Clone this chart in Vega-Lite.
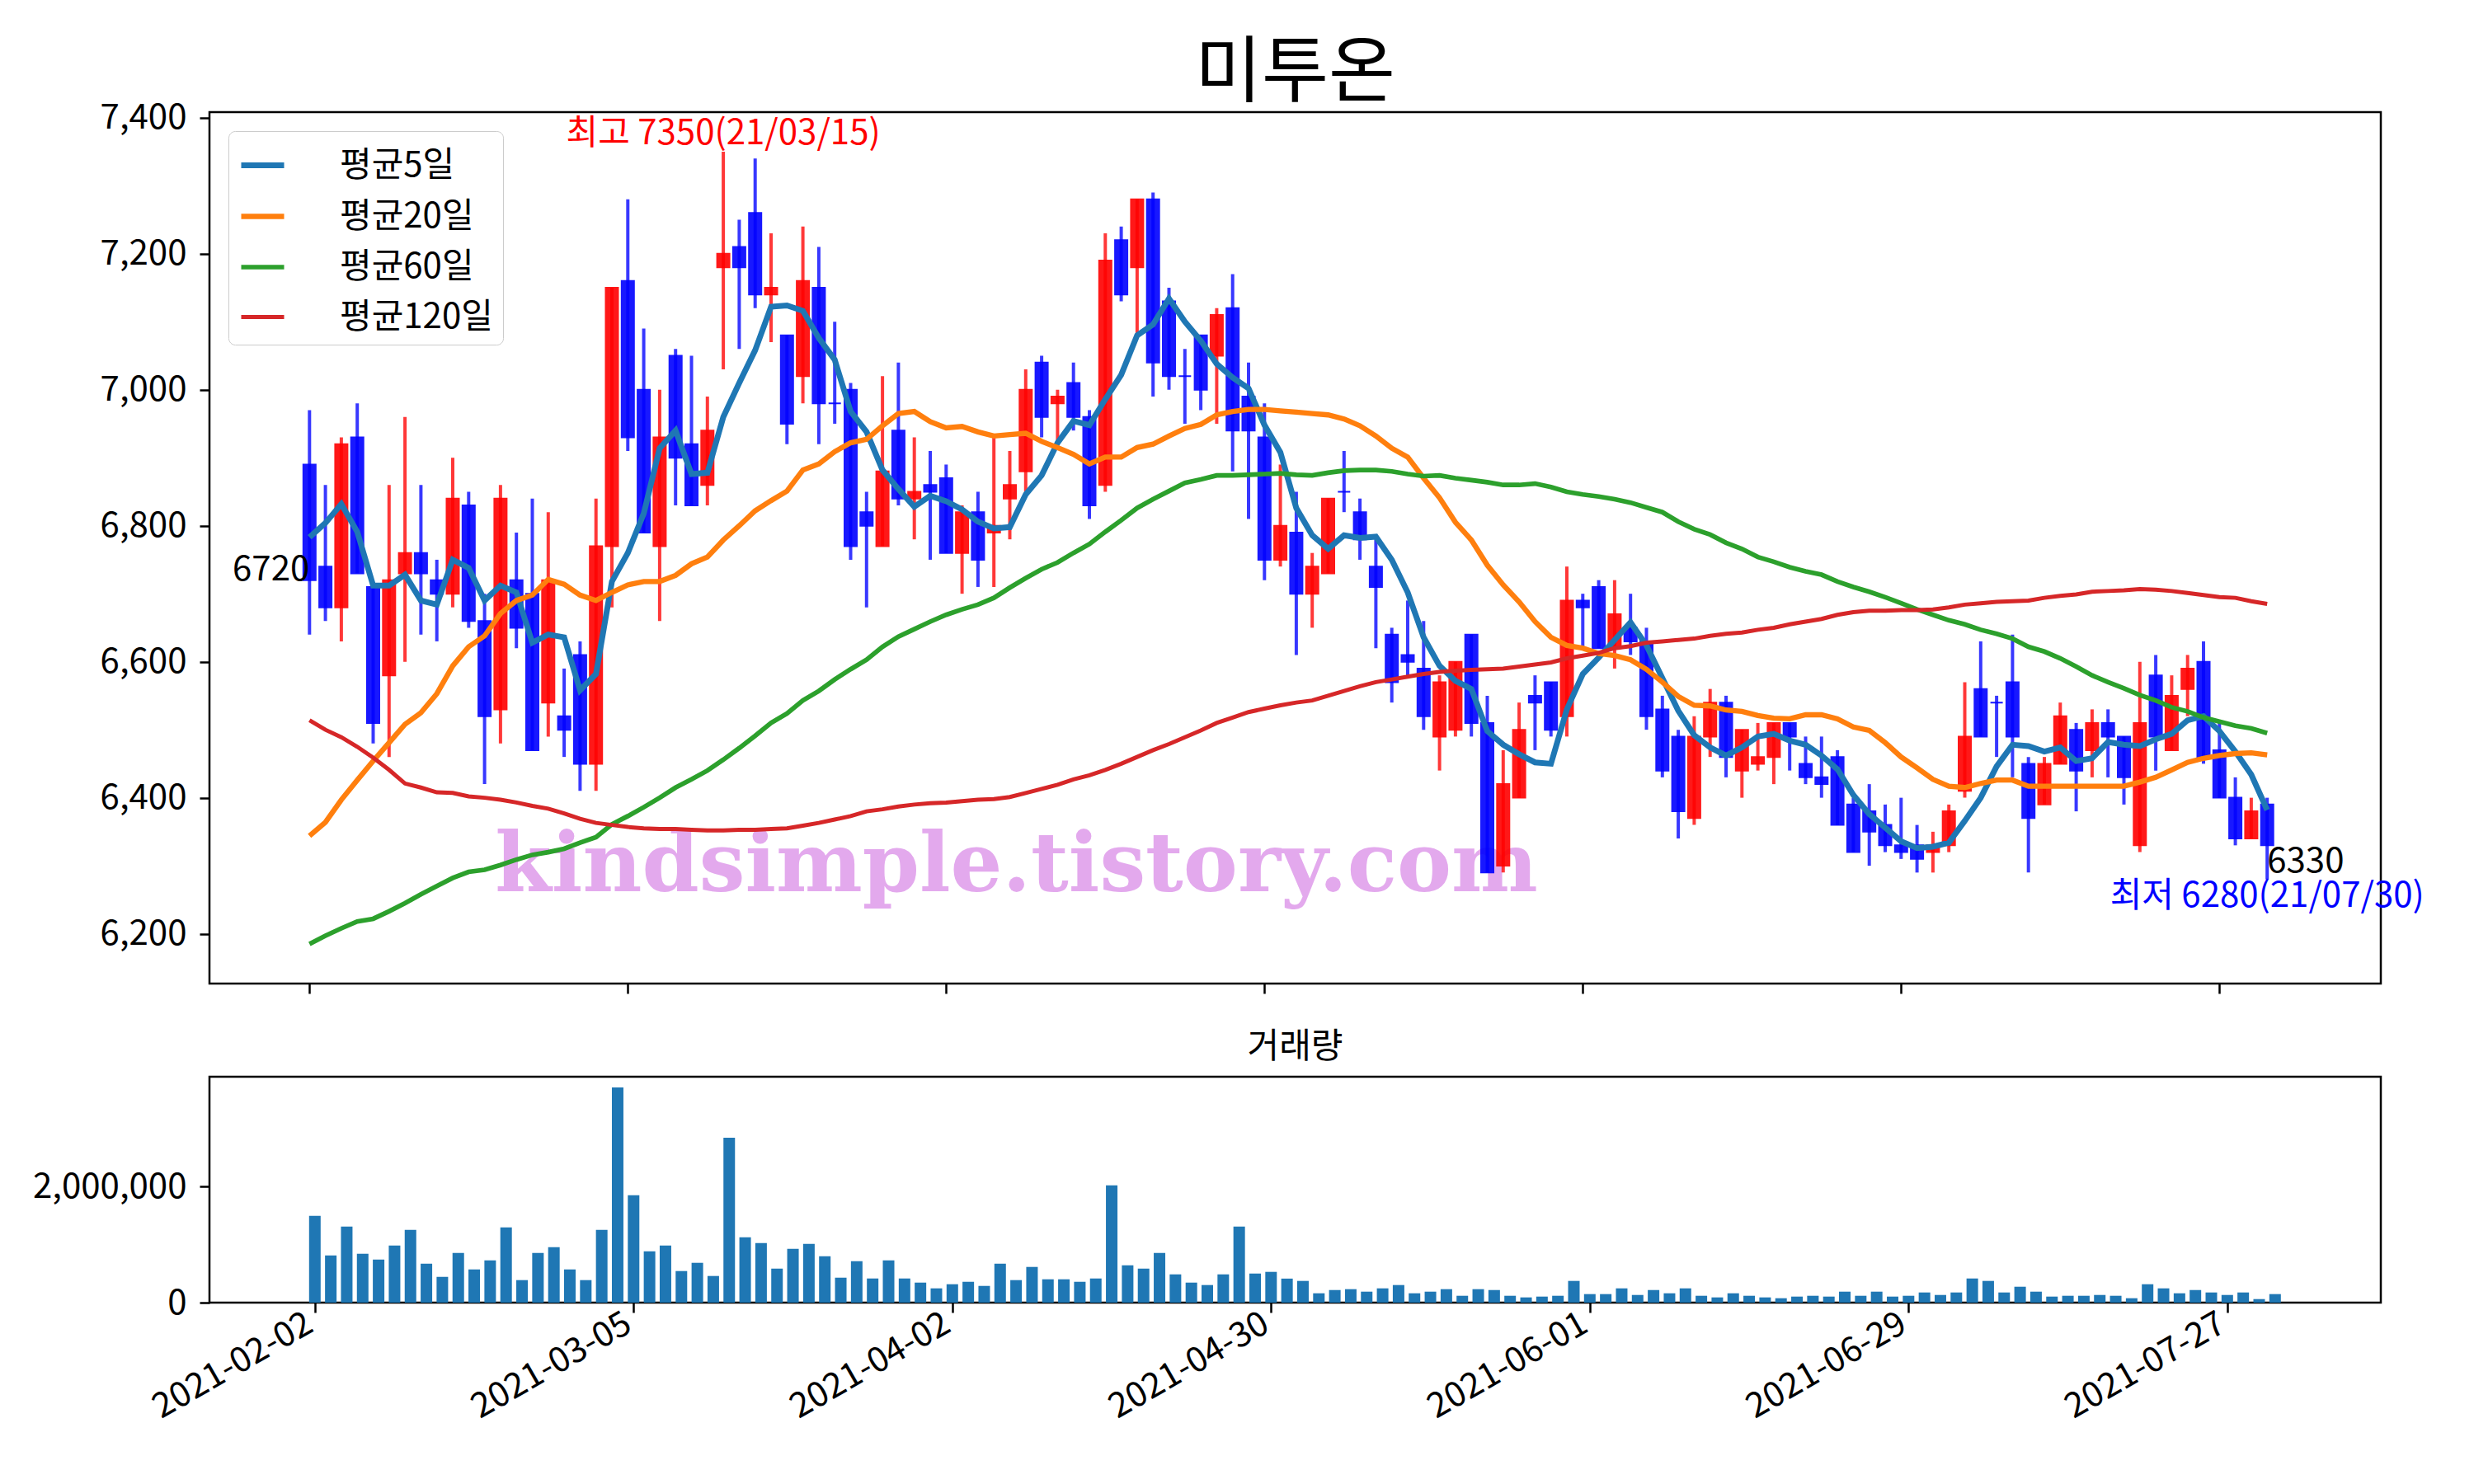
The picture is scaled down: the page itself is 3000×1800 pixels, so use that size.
{
"$schema":"https://vega.github.io/schema/vega-lite/v6.json",
"autosize":{"type":"pad"},
"padding":{"left":38,"top":45,"right":0,"bottom":40},
"background":"white",
"title":{"text":"미투온","fontSize":88,"font":"Noto Sans CJK KR","fontWeight":"normal","anchor":"middle","frame":"group","offset":-13,"color":"black"},
"config":{"font":"Noto Sans CJK KR","view":{"stroke":"black","strokeWidth":2.5},
"axis":{"grid":false,"domain":false,"tickColor":"black","tickWidth":2.5,"tickSize":12,"labelColor":"black","labelFontSize":42,"labelFont":"Noto Sans CJK KR","labelPadding":16,"labelLimit":500},
"axisY":{"minExtent":200,"maxExtent":200},
"concat":{"spacing":39}},
"resolve":{"scale":{"x":"independent","y":"independent"}},
"datasets":{"stock":[
{"date":"2021-02-02","open":6890,"high":6970,"low":6640,"close":6720,"volume":1494000,"평균5일":6783,"평균20일":6344,"평균60일":6185,"평균120일":6514},
{"date":"2021-02-03","open":6740,"high":6860,"low":6660,"close":6680,"volume":813000,"평균5일":6804,"평균20일":6364,"평균60일":6197,"평균120일":6500},
{"date":"2021-02-04","open":6680,"high":6930,"low":6630,"close":6920,"volume":1310000,"평균5일":6832,"평균20일":6397,"평균60일":6208,"평균120일":6489},
{"date":"2021-02-05","open":6930,"high":6980,"low":6730,"close":6730,"volume":842000,"평균5일":6791,"평균20일":6426,"평균60일":6218,"평균120일":6475},
{"date":"2021-02-08","open":6710,"high":6710,"low":6480,"close":6510,"volume":742000,"평균5일":6712,"평균20일":6454,"평균60일":6222,"평균120일":6459},
{"date":"2021-02-09","open":6580,"high":6860,"low":6460,"close":6720,"volume":983000,"평균5일":6712,"평균20일":6481,"평균60일":6233,"평균120일":6441},
{"date":"2021-02-10","open":6730,"high":6960,"low":6600,"close":6760,"volume":1253000,"평균5일":6728,"평균20일":6508,"평균60일":6245,"평균120일":6421},
{"date":"2021-02-15","open":6760,"high":6860,"low":6640,"close":6730,"volume":671000,"평균5일":6690,"평균20일":6525,"평균60일":6258,"평균120일":6415},
{"date":"2021-02-16","open":6720,"high":6750,"low":6630,"close":6700,"volume":444000,"평균5일":6684,"평균20일":6553,"평균60일":6270,"평균120일":6408},
{"date":"2021-02-17","open":6700,"high":6900,"low":6680,"close":6840,"volume":856000,"평균5일":6750,"평균20일":6594,"평균60일":6282,"평균120일":6407},
{"date":"2021-02-18","open":6830,"high":6850,"low":6650,"close":6660,"volume":572000,"평균5일":6738,"평균20일":6622,"평균60일":6291,"평균120일":6402},
{"date":"2021-02-19","open":6660,"high":6700,"low":6420,"close":6520,"volume":728000,"평균5일":6690,"평균20일":6638,"평균60일":6294,"평균120일":6400},
{"date":"2021-02-22","open":6530,"high":6860,"low":6480,"close":6840,"volume":1296000,"평균5일":6712,"평균20일":6671,"평균60일":6301,"평균120일":6397},
{"date":"2021-02-23","open":6720,"high":6790,"low":6620,"close":6650,"volume":388000,"평균5일":6702,"평균20일":6690,"평균60일":6309,"평균120일":6393},
{"date":"2021-02-24","open":6700,"high":6840,"low":6470,"close":6470,"volume":856000,"평균5일":6628,"평균20일":6698,"평균60일":6316,"평균120일":6388},
{"date":"2021-02-25","open":6540,"high":6820,"low":6490,"close":6720,"volume":955000,"평균5일":6640,"평균20일":6721,"평균60일":6320,"평균120일":6384},
{"date":"2021-02-26","open":6520,"high":6590,"low":6460,"close":6500,"volume":572000,"평균5일":6636,"평균20일":6714,"평균60일":6325,"평균120일":6377},
{"date":"2021-03-02","open":6610,"high":6630,"low":6410,"close":6450,"volume":388000,"평균5일":6558,"평균20일":6698,"평균60일":6334,"평균120일":6369},
{"date":"2021-03-03","open":6450,"high":6840,"low":6410,"close":6770,"volume":1253000,"평균5일":6582,"평균20일":6690,"평균60일":6342,"평균120일":6363},
{"date":"2021-03-04","open":6770,"high":7150,"low":6680,"close":7150,"volume":3707000,"평균5일":6718,"평균20일":6702,"평균60일":6361,"평균120일":6360},
{"date":"2021-03-05","open":7160,"high":7280,"low":6910,"close":6930,"volume":1849000,"평균5일":6760,"평균20일":6713,"평균60일":6373,"평균120일":6357},
{"date":"2021-03-08","open":7000,"high":7090,"low":6790,"close":6790,"volume":884000,"평균5일":6818,"평균20일":6718,"평균60일":6386,"평균120일":6355},
{"date":"2021-03-09","open":6770,"high":7000,"low":6660,"close":6930,"volume":983000,"평균5일":6914,"평균20일":6718,"평균60일":6400,"평균120일":6354},
{"date":"2021-03-10","open":7050,"high":7060,"low":6830,"close":6900,"volume":544000,"평균5일":6940,"평균20일":6727,"평균60일":6415,"평균120일":6354},
{"date":"2021-03-11","open":6920,"high":7050,"low":6830,"close":6830,"volume":686000,"평균5일":6876,"평균20일":6744,"평균60일":6427,"평균120일":6353},
{"date":"2021-03-12","open":6860,"high":6990,"low":6830,"close":6940,"volume":459000,"평균5일":6878,"평균20일":6754,"평균60일":6440,"평균120일":6352},
{"date":"2021-03-15","open":7180,"high":7350,"low":7030,"close":7200,"volume":2842000,"평균5일":6960,"평균20일":6779,"평균60일":6456,"평균120일":6352},
{"date":"2021-03-16","open":7210,"high":7250,"low":7060,"close":7180,"volume":1125000,"평균5일":7010,"평균20일":6800,"평균60일":6473,"평균120일":6353},
{"date":"2021-03-17","open":7260,"high":7340,"low":7120,"close":7140,"volume":1026000,"평균5일":7058,"평균20일":6822,"평균60일":6491,"평균120일":6353},
{"date":"2021-03-18","open":7140,"high":7230,"low":7070,"close":7150,"volume":586000,"평균5일":7122,"평균20일":6837,"평균60일":6510,"평균120일":6354},
{"date":"2021-03-19","open":7080,"high":7080,"low":6920,"close":6950,"volume":927000,"평균5일":7124,"평균20일":6851,"평균60일":6524,"평균120일":6355},
{"date":"2021-03-22","open":7020,"high":7240,"low":6980,"close":7160,"volume":1012000,"평균5일":7116,"평균20일":6882,"평균60일":6543,"평균120일":6359},
{"date":"2021-03-23","open":7150,"high":7210,"low":6920,"close":6980,"volume":799000,"평균5일":7076,"평균20일":6891,"평균60일":6557,"평균120일":6363},
{"date":"2021-03-24","open":6980,"high":7100,"low":6950,"close":6980,"volume":430000,"평균5일":7044,"평균20일":6909,"평균60일":6574,"평균120일":6368},
{"date":"2021-03-25","open":7000,"high":7010,"low":6750,"close":6770,"volume":714000,"평균5일":6968,"평균20일":6922,"평균60일":6589,"평균120일":6373},
{"date":"2021-03-26","open":6820,"high":6850,"low":6680,"close":6800,"volume":416000,"평균5일":6938,"평균20일":6927,"평균60일":6603,"평균120일":6380},
{"date":"2021-03-29","open":6770,"high":7020,"low":6770,"close":6880,"volume":728000,"평균5일":6882,"평균20일":6947,"평균60일":6622,"평균120일":6383},
{"date":"2021-03-30","open":6940,"high":7040,"low":6830,"close":6840,"volume":416000,"평균5일":6854,"평균20일":6965,"평균60일":6637,"평균120일":6387},
{"date":"2021-03-31","open":6840,"high":6930,"low":6780,"close":6850,"volume":345000,"평균5일":6828,"평균20일":6968,"평균60일":6648,"평균120일":6390},
{"date":"2021-04-01","open":6860,"high":6910,"low":6750,"close":6850,"volume":246000,"평균5일":6844,"평균20일":6953,"평균60일":6659,"평균120일":6392},
{"date":"2021-04-02","open":6870,"high":6890,"low":6760,"close":6760,"volume":317000,"평균5일":6836,"평균20일":6944,"평균60일":6669,"평균120일":6393},
{"date":"2021-04-05","open":6760,"high":6830,"low":6700,"close":6820,"volume":359000,"평균5일":6824,"평균20일":6946,"평균60일":6677,"평균120일":6395},
{"date":"2021-04-06","open":6820,"high":6850,"low":6710,"close":6750,"volume":288000,"평균5일":6806,"평균20일":6938,"평균60일":6684,"평균120일":6397},
{"date":"2021-04-07","open":6790,"high":6930,"low":6710,"close":6800,"volume":671000,"평균5일":6796,"평균20일":6932,"평균60일":6694,"평균120일":6398},
{"date":"2021-04-08","open":6840,"high":6910,"low":6780,"close":6860,"volume":388000,"평균5일":6798,"평균20일":6934,"평균60일":6709,"평균120일":6401},
{"date":"2021-04-09","open":6880,"high":7030,"low":6850,"close":7000,"volume":615000,"평균5일":6846,"평균20일":6936,"평균60일":6723,"평균120일":6407},
{"date":"2021-04-12","open":7040,"high":7050,"low":6930,"close":6960,"volume":402000,"평균5일":6874,"평균20일":6924,"평균60일":6736,"평균120일":6413},
{"date":"2021-04-13","open":6980,"high":7000,"low":6920,"close":6990,"volume":402000,"평균5일":6922,"평균20일":6915,"평균60일":6746,"평균120일":6419},
{"date":"2021-04-14","open":7010,"high":7040,"low":6940,"close":6960,"volume":359000,"평균5일":6954,"평균20일":6905,"평균60일":6760,"평균120일":6427},
{"date":"2021-04-15","open":6960,"high":6970,"low":6810,"close":6830,"volume":416000,"평균5일":6948,"평균20일":6891,"평균60일":6773,"평균120일":6433},
{"date":"2021-04-16","open":6860,"high":7230,"low":6850,"close":7190,"volume":2019000,"평균5일":6986,"평균20일":6901,"평균60일":6791,"평균120일":6441},
{"date":"2021-04-19","open":7220,"high":7240,"low":7130,"close":7140,"volume":643000,"평균5일":7022,"평균20일":6901,"평균60일":6808,"평균120일":6450},
{"date":"2021-04-20","open":7180,"high":7280,"low":7080,"close":7280,"volume":586000,"평균5일":7080,"평균20일":6915,"평균60일":6826,"평균120일":6460},
{"date":"2021-04-21","open":7280,"high":7290,"low":6990,"close":7040,"volume":856000,"평균5일":7096,"평균20일":6920,"평균60일":6839,"평균120일":6470},
{"date":"2021-04-22","open":7130,"high":7150,"low":7000,"close":7020,"volume":487000,"평균5일":7134,"평균20일":6932,"평균60일":6851,"평균120일":6479},
{"date":"2021-04-23","open":7020,"high":7060,"low":6950,"close":7020,"volume":345000,"평균5일":7100,"평균20일":6943,"평균60일":6863,"평균120일":6489},
{"date":"2021-04-26","open":7080,"high":7080,"low":6970,"close":7000,"volume":303000,"평균5일":7072,"평균20일":6949,"평균60일":6868,"평균120일":6499},
{"date":"2021-04-27","open":7050,"high":7120,"low":6950,"close":7110,"volume":487000,"평균5일":7038,"평균20일":6963,"평균60일":6874,"평균120일":6510},
{"date":"2021-04-28","open":7120,"high":7170,"low":6880,"close":6940,"volume":1310000,"평균5일":7018,"평균20일":6968,"평균60일":6874,"평균120일":6518},
{"date":"2021-04-29","open":6990,"high":7040,"low":6810,"close":6940,"volume":501000,"평균5일":7002,"평균20일":6971,"평균60일":6875,"평균120일":6526},
{"date":"2021-04-30","open":6930,"high":6980,"low":6720,"close":6750,"volume":530000,"평균5일":6948,"평균20일":6971,"평균60일":6876,"평균120일":6531},
{"date":"2021-05-03","open":6750,"high":6890,"low":6740,"close":6800,"volume":414000,"평균5일":6908,"평균20일":6969,"평균60일":6877,"평균120일":6536},
{"date":"2021-05-04","open":6790,"high":6850,"low":6610,"close":6700,"volume":374000,"평균5일":6826,"평균20일":6967,"평균60일":6875,"평균120일":6540},
{"date":"2021-05-06","open":6700,"high":6760,"low":6650,"close":6740,"volume":161000,"평균5일":6786,"평균20일":6965,"평균60일":6874,"평균120일":6543},
{"date":"2021-05-07","open":6730,"high":6840,"low":6730,"close":6840,"volume":217000,"평균5일":6766,"평균20일":6963,"평균60일":6878,"평균120일":6550},
{"date":"2021-05-10","open":6850,"high":6910,"low":6820,"close":6850,"volume":232000,"평균5일":6786,"평균20일":6957,"평균60일":6881,"평균120일":6557},
{"date":"2021-05-11","open":6820,"high":6840,"low":6750,"close":6780,"volume":189000,"평균5일":6782,"평균20일":6947,"평균60일":6882,"평균120일":6564},
{"date":"2021-05-12","open":6740,"high":6780,"low":6620,"close":6710,"volume":246000,"평균5일":6784,"평균20일":6932,"평균60일":6882,"평균120일":6570},
{"date":"2021-05-13","open":6640,"high":6650,"low":6540,"close":6570,"volume":303000,"평균5일":6750,"평균20일":6914,"평균60일":6880,"평균120일":6574},
{"date":"2021-05-14","open":6610,"high":6690,"low":6580,"close":6600,"volume":161000,"평균5일":6702,"평균20일":6901,"평균60일":6876,"평균120일":6578},
{"date":"2021-05-17","open":6590,"high":6660,"low":6500,"close":6520,"volume":189000,"평균5일":6636,"평균20일":6870,"평균60일":6873,"평균120일":6582},
{"date":"2021-05-18","open":6490,"high":6580,"low":6440,"close":6570,"volume":232000,"평균5일":6594,"평균20일":6841,"평균60일":6874,"평균120일":6585},
{"date":"2021-05-20","open":6500,"high":6600,"low":6490,"close":6600,"volume":118000,"평균5일":6572,"평균20일":6805,"평균60일":6870,"평균120일":6587},
{"date":"2021-05-21","open":6640,"high":6640,"low":6490,"close":6510,"volume":232000,"평균5일":6560,"평균20일":6779,"평균60일":6867,"평균120일":6588},
{"date":"2021-05-24","open":6510,"high":6550,"low":6290,"close":6290,"volume":217000,"평균5일":6498,"평균20일":6742,"평균60일":6864,"평균120일":6589},
{"date":"2021-05-25","open":6300,"high":6470,"low":6290,"close":6420,"volume":118000,"평균5일":6478,"평균20일":6713,"평균60일":6860,"평균120일":6590},
{"date":"2021-05-26","open":6400,"high":6540,"low":6400,"close":6500,"volume":90000,"평균5일":6464,"평균20일":6688,"평균60일":6860,"평균120일":6593},
{"date":"2021-05-27","open":6550,"high":6580,"low":6470,"close":6540,"volume":104000,"평균5일":6452,"평균20일":6659,"평균60일":6862,"평균120일":6596},
{"date":"2021-05-28","open":6570,"high":6570,"low":6490,"close":6500,"volume":118000,"평균5일":6450,"평균20일":6636,"평균60일":6857,"평균120일":6599},
{"date":"2021-05-31","open":6520,"high":6740,"low":6490,"close":6690,"volume":374000,"평균5일":6530,"평균20일":6624,"평균60일":6850,"평균120일":6605},
{"date":"2021-06-01","open":6690,"high":6700,"low":6620,"close":6680,"volume":147000,"평균5일":6582,"평균20일":6620,"평균60일":6846,"평균120일":6609},
{"date":"2021-06-02","open":6710,"high":6720,"low":6620,"close":6620,"volume":147000,"평균5일":6606,"평균20일":6612,"평균60일":6843,"평균120일":6613},
{"date":"2021-06-03","open":6620,"high":6720,"low":6590,"close":6670,"volume":246000,"평균5일":6632,"평균20일":6609,"평균60일":6839,"평균120일":6620},
{"date":"2021-06-04","open":6650,"high":6700,"low":6610,"close":6630,"volume":132000,"평균5일":6658,"평균20일":6603,"평균60일":6834,"평균120일":6623},
{"date":"2021-06-07","open":6630,"high":6650,"low":6500,"close":6520,"volume":217000,"평균5일":6624,"평균20일":6589,"평균60일":6827,"평균120일":6628},
{"date":"2021-06-08","open":6530,"high":6550,"low":6430,"close":6440,"volume":161000,"평균5일":6576,"평균20일":6570,"평균60일":6820,"평균120일":6630},
{"date":"2021-06-09","open":6490,"high":6500,"low":6340,"close":6380,"volume":246000,"평균5일":6528,"평균20일":6549,"평균60일":6806,"평균120일":6632},
{"date":"2021-06-10","open":6370,"high":6520,"low":6360,"close":6490,"volume":118000,"평균5일":6492,"평균20일":6536,"평균60일":6795,"평균120일":6634},
{"date":"2021-06-11","open":6490,"high":6560,"low":6460,"close":6540,"volume":90000,"평균5일":6474,"평균20일":6535,"평균60일":6787,"평균120일":6638},
{"date":"2021-06-14","open":6540,"high":6550,"low":6430,"close":6460,"volume":161000,"평균5일":6462,"평균20일":6529,"평균60일":6775,"평균120일":6641},
{"date":"2021-06-15","open":6440,"high":6500,"low":6400,"close":6500,"volume":118000,"평균5일":6474,"평균20일":6527,"평균60일":6766,"평균120일":6643},
{"date":"2021-06-16","open":6450,"high":6510,"low":6440,"close":6460,"volume":90000,"평균5일":6490,"평균20일":6521,"평균60일":6754,"평균120일":6647},
{"date":"2021-06-17","open":6460,"high":6510,"low":6420,"close":6510,"volume":76000,"평균5일":6494,"평균20일":6517,"평균60일":6747,"평균120일":6650},
{"date":"2021-06-18","open":6510,"high":6510,"low":6440,"close":6490,"volume":104000,"평균5일":6484,"평균20일":6516,"평균60일":6739,"평균120일":6655},
{"date":"2021-06-21","open":6450,"high":6490,"low":6420,"close":6430,"volume":118000,"평균5일":6478,"평균20일":6522,"평균60일":6733,"평균120일":6659},
{"date":"2021-06-22","open":6430,"high":6490,"low":6400,"close":6420,"volume":104000,"평균5일":6462,"평균20일":6522,"평균60일":6728,"평균120일":6663},
{"date":"2021-06-23","open":6460,"high":6470,"low":6360,"close":6360,"volume":189000,"평균5일":6442,"평균20일":6516,"평균60일":6718,"평균120일":6669},
{"date":"2021-06-24","open":6390,"high":6400,"low":6320,"close":6320,"volume":118000,"평균5일":6404,"평균20일":6504,"평균60일":6710,"평균120일":6673},
{"date":"2021-06-25","open":6380,"high":6420,"low":6300,"close":6350,"volume":189000,"평균5일":6376,"평균20일":6499,"평균60일":6703,"평균120일":6675},
{"date":"2021-06-28","open":6360,"high":6390,"low":6320,"close":6330,"volume":104000,"평균5일":6356,"평균20일":6481,"평균60일":6695,"평균120일":6675},
{"date":"2021-06-29","open":6330,"high":6400,"low":6310,"close":6320,"volume":118000,"평균5일":6336,"평균20일":6460,"평균60일":6686,"평균120일":6676},
{"date":"2021-06-30","open":6330,"high":6360,"low":6290,"close":6310,"volume":175000,"평균5일":6326,"평균20일":6444,"평균60일":6677,"평균120일":6676},
{"date":"2021-07-01","open":6320,"high":6350,"low":6290,"close":6330,"volume":132000,"평균5일":6328,"평균20일":6427,"평균60일":6669,"평균120일":6677},
{"date":"2021-07-02","open":6330,"high":6390,"low":6320,"close":6380,"volume":175000,"평균5일":6334,"평균20일":6417,"평균60일":6661,"평균120일":6680},
{"date":"2021-07-05","open":6410,"high":6570,"low":6400,"close":6490,"volume":416000,"평균5일":6366,"평균20일":6415,"평균60일":6655,"평균120일":6684},
{"date":"2021-07-06","open":6560,"high":6630,"low":6490,"close":6490,"volume":374000,"평균5일":6400,"평균20일":6421,"평균60일":6647,"평균120일":6686},
{"date":"2021-07-07","open":6540,"high":6550,"low":6460,"close":6540,"volume":175000,"평균5일":6446,"평균20일":6426,"평균60일":6641,"평균120일":6688},
{"date":"2021-07-08","open":6570,"high":6640,"low":6430,"close":6490,"volume":274000,"평균5일":6478,"평균20일":6426,"평균60일":6634,"평균120일":6689},
{"date":"2021-07-09","open":6450,"high":6460,"low":6290,"close":6370,"volume":189000,"평균5일":6476,"평균20일":6417,"평균60일":6622,"평균120일":6690},
{"date":"2021-07-12","open":6390,"high":6460,"low":6390,"close":6450,"volume":104000,"평균5일":6468,"평균20일":6417,"평균60일":6615,"평균120일":6694},
{"date":"2021-07-13","open":6450,"high":6540,"low":6450,"close":6520,"volume":118000,"평균5일":6474,"평균20일":6417,"평균60일":6605,"평균120일":6697},
{"date":"2021-07-14","open":6500,"high":6510,"low":6380,"close":6440,"volume":118000,"평균5일":6454,"평균20일":6417,"평균60일":6593,"평균120일":6699},
{"date":"2021-07-15","open":6470,"high":6530,"low":6430,"close":6510,"volume":132000,"평균5일":6458,"평균20일":6417,"평균60일":6580,"평균120일":6703},
{"date":"2021-07-16","open":6510,"high":6530,"low":6430,"close":6490,"volume":118000,"평균5일":6482,"평균20일":6417,"평균60일":6570,"평균120일":6704},
{"date":"2021-07-19","open":6490,"high":6490,"low":6390,"close":6430,"volume":76000,"평균5일":6478,"평균20일":6417,"평균60일":6561,"평균120일":6705},
{"date":"2021-07-20","open":6330,"high":6600,"low":6320,"close":6510,"volume":317000,"평균5일":6476,"평균20일":6423,"평균60일":6551,"평균120일":6707},
{"date":"2021-07-21","open":6580,"high":6610,"low":6440,"close":6490,"volume":246000,"평균5일":6486,"평균20일":6430,"평균60일":6543,"평균120일":6706},
{"date":"2021-07-22","open":6470,"high":6580,"low":6470,"close":6550,"volume":161000,"평균5일":6494,"평균20일":6441,"평균60일":6533,"평균120일":6704},
{"date":"2021-07-23","open":6560,"high":6610,"low":6520,"close":6590,"volume":217000,"평균5일":6514,"평균20일":6452,"평균60일":6527,"평균120일":6701},
{"date":"2021-07-26","open":6600,"high":6630,"low":6450,"close":6460,"volume":175000,"평균5일":6520,"평균20일":6458,"평균60일":6518,"평균120일":6698},
{"date":"2021-07-27","open":6470,"high":6510,"low":6400,"close":6400,"volume":132000,"평균5일":6498,"평균20일":6462,"평균60일":6512,"평균120일":6695},
{"date":"2021-07-28","open":6400,"high":6430,"low":6330,"close":6340,"volume":175000,"평균5일":6468,"평균20일":6465,"평균60일":6506,"평균120일":6694},
{"date":"2021-07-29","open":6340,"high":6400,"low":6340,"close":6380,"volume":61000,"평균5일":6434,"평균20일":6466,"평균60일":6502,"평균120일":6689},
{"date":"2021-07-30","open":6390,"high":6400,"low":6280,"close":6330,"volume":147000,"평균5일":6382,"평균20일":6463,"평균60일":6495,"평균120일":6685}
]},
"vconcat":[
{"width":2633,"height":1057,
"data":{"name":"stock"},
"encoding":{"x":{"field":"date","type":"ordinal","scale":{"type":"point","padding":0,"range":[121.3,2495.2]},"axis":{"values":["2021-02-02","2021-03-05","2021-04-02","2021-04-30","2021-06-01","2021-06-29","2021-07-27"],"labels":false,"title":null}}},
"layer":[
{"data":{"values":[{"label":"kindsimple.tistory.com"}]},
 "mark":{"type":"text","font":"DejaVu Serif","fontWeight":"bold","fontSize":99,"color":"#e3a9ed","align":"center","baseline":"alphabetic","dx":8},
 "encoding":{"x":{"datum":"2021-04-08","type":"ordinal"},"y":{"datum":6263,"type":"quantitative","scale":{"domain":[6126.75,7408.25],"nice":false,"zero":false},"axis":{"values":[6200,6400,6600,6800,7000,7200,7400],"labelExpr":"format(datum.value, ',')","title":null}},"text":{"field":"label"}}},
{"mark":{"type":"rule","strokeWidth":4,"opacity":0.78},
 "encoding":{"y":{"field":"low","type":"quantitative","scale":{"domain":[6126.75,7408.25],"nice":false,"zero":false}},"y2":{"field":"high"},
 "color":{"condition":{"test":"datum.close > datum.open","value":"#ff0000"},"value":"#0000ff"}}},
{"mark":{"type":"bar","size":15,"strokeWidth":2,"opacity":0.9},
 "encoding":{"y":{"field":"open","type":"quantitative","scale":{"domain":[6126.75,7408.25],"nice":false,"zero":false}},"y2":{"field":"close"},
 "color":{"condition":{"test":"datum.close > datum.open","value":"#ff0000"},"value":"#0000ff"},
 "stroke":{"condition":{"test":"datum.close > datum.open","value":"#ff0000"},"value":"#0000ff"}}},
{"transform":[{"fold":["평균5일","평균20일","평균60일","평균120일"],"as":["key","value"]}],
 "mark":{"type":"line"},
 "encoding":{"y":{"field":"value","type":"quantitative","scale":{"domain":[6126.75,7408.25],"nice":false,"zero":false}},
 "color":{"field":"key","type":"nominal","scale":{"domain":["평균5일","평균20일","평균60일","평균120일"],"range":["#1f77b4","#ff7f0e","#2ca02c","#d62728"]},
   "legend":{"orient":"top-left","offset":23,"title":null,"symbolType":"stroke","symbolStrokeWidth":6,"symbolSize":2704,"labelFontSize":42,"labelFont":"Noto Sans CJK KR","labelColor":"black","labelLimit":500,"padding":12,"rowPadding":11,"labelOffset":64,"strokeColor":"#cccccc","fillColor":"white","cornerRadius":8}},
 "strokeWidth":{"field":"key","type":"nominal","scale":{"domain":["평균5일","평균20일","평균60일","평균120일"],"range":[7,5,5,5]},"legend":null}}},
{"data":{"values":[{"date":"2021-03-15","price":7350,"label":"최고 7350(21/03/15)"}]},
 "mark":{"type":"text","fontSize":42,"color":"#ff0000","align":"center","baseline":"bottom"},
 "encoding":{"y":{"field":"price","type":"quantitative","scale":{"domain":[6126.75,7408.25],"nice":false,"zero":false}},"text":{"field":"label"}}},
{"data":{"values":[{"date":"2021-07-30","price":6280,"label":"최저 6280(21/07/30)"}]},
 "mark":{"type":"text","fontSize":42,"color":"#0000ff","align":"center","baseline":"top"},
 "encoding":{"y":{"field":"price","type":"quantitative","scale":{"domain":[6126.75,7408.25],"nice":false,"zero":false}},"text":{"field":"label"}}},
{"data":{"values":[{"date":"2021-02-02","price":6720,"label":"6720"}]},
 "mark":{"type":"text","fontSize":42,"color":"black","align":"right","baseline":"alphabetic"},
 "encoding":{"y":{"field":"price","type":"quantitative","scale":{"domain":[6126.75,7408.25],"nice":false,"zero":false}},"text":{"field":"label"}}},
{"data":{"values":[{"date":"2021-07-30","price":6330,"label":"6330"}]},
 "mark":{"type":"text","fontSize":42,"color":"black","align":"left","baseline":"top"},
 "encoding":{"y":{"field":"price","type":"quantitative","scale":{"domain":[6126.75,7408.25],"nice":false,"zero":false}},"text":{"field":"label"}}}
]},
{"width":2633,"height":274,
"title":{"text":"거래량","fontSize":42,"fontWeight":"normal","font":"Noto Sans CJK KR","anchor":"middle","frame":"group","offset":14,"color":"black"},
"data":{"name":"stock"},
"mark":{"type":"bar","size":14,"color":"#1f77b4"},
"encoding":{"x":{"field":"date","type":"ordinal","scale":{"type":"point","padding":0,"range":[127.8,2504.8]},"axis":{"values":["2021-02-02","2021-03-05","2021-04-02","2021-04-30","2021-06-01","2021-06-29","2021-07-27"],"labelAngle":-30,"labelAlign":"right","labelBaseline":"alphabetic","labelPadding":21,"title":null}},
"y":{"field":"volume","type":"quantitative","scale":{"domain":[0,3892350],"nice":false,"zero":true},"axis":{"values":[0,2000000],"labelExpr":"format(datum.value, ',')","title":null}}}}
]
}
